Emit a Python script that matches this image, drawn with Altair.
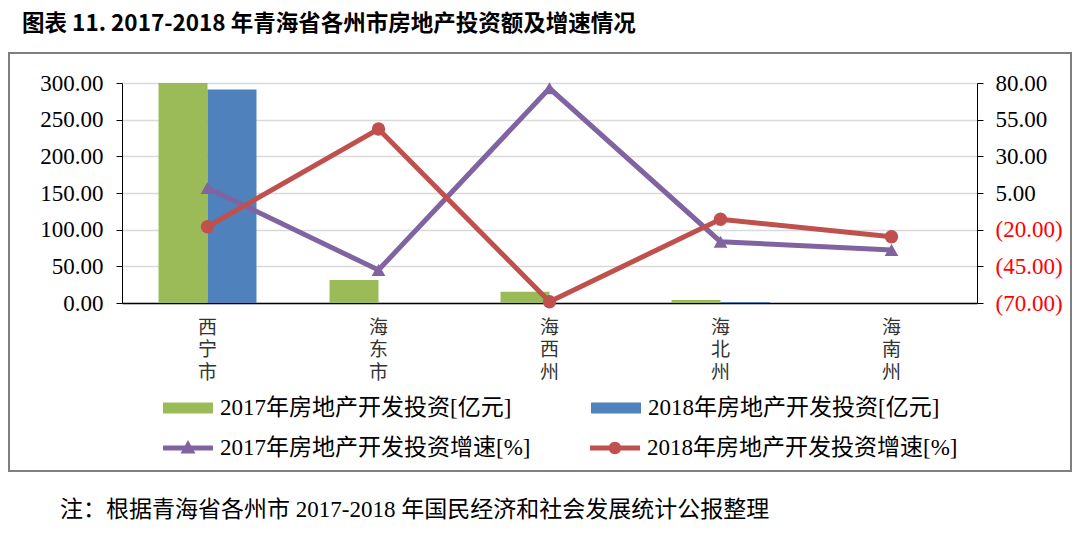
import altair as alt
import pandas as pd

# ---------------- data ----------------
cities = ["西宁市", "海东市", "海西州", "海北州", "海南州"]
bar_series = ["2017年房地产开发投资[亿元]", "2018年房地产开发投资[亿元]"]
line_series = ["2017年房地产开发投资增速[%]", "2018年房地产开发投资增速[%]"]
inv_2017 = [300.0, 31.5, 15.5, 4.0, 0.0]
inv_2018 = [291.0, 0.0, 0.0, 1.5, 0.0]
growth_2017 = [8.4, -47.5, 76.4, -28.2, -33.9]
growth_2018 = [-18.0, 48.6, -69.1, -12.9, -24.8]
left_ticks = [0, 50, 100, 150, 200, 250, 300]
right_ticks = [-70, -45, -20, 5, 30, 55, 80]
title_text = "图表 11. 2017-2018 年青海省各州市房地产投资额及增速情况"
note_text = "注：根据青海省各州市 2017-2018 年国民经济和社会发展统计公报整理"

bar_df = pd.DataFrame(
    {"city": cities * 2,
     "series": [bar_series[0]] * 5 + [bar_series[1]] * 5,
     "value": inv_2017 + inv_2018}
)
line_df = pd.DataFrame(
    {"city": cities * 2,
     "series": [line_series[0]] * 5 + [line_series[1]] * 5,
     "value": growth_2017 + growth_2018}
)

GREEN, BLUE, PURPLE, RED = "#9BBB59", "#4F81BD", "#8064A2", "#C0504D"
SERIF = "Liberation Serif, Noto Sans CJK SC"
CJK = "Noto Sans CJK SC"

W, H = 855, 220

x_enc = alt.X(
    "city:N", sort=cities, title=None,
    scale=alt.Scale(domain=cities, paddingInner=0.427, paddingOuter=0.2135),
    axis=alt.Axis(labelAngle=0, ticks=False, grid=False, domainColor="#000000",
                  domainWidth=1.5, labelExpr="split(datum.label, '')",
                  labelFont=CJK, labelFontSize=19, labelLineHeight=22.5,
                  labelColor="#333333", labelPadding=15, labelBaseline="top"),
)

left_axis = alt.Axis(values=left_ticks, format=".2f", grid=True, gridColor="#d9d9d9",
                     gridWidth=1.5, domainColor="#000000", tickColor="#000000",
                     tickSize=6, labelFont=SERIF, labelFontSize=23,
                     labelColor="#000000", labelPadding=13, title=None)

right_axis = alt.Axis(values=right_ticks, orient="right", grid=False,
                      domainColor="#000000", tickColor="#000000", tickSize=6,
                      labelFont=SERIF, labelFontSize=23, labelPadding=12, title=None,
                      labelExpr="datum.value < 0 ? '(' + format(-datum.value, '.2f') + ')' : format(datum.value, '.2f')",
                      labelColor={"condition": {"test": "datum.value < 0", "value": "#FF0000"},
                                  "value": "#000000"})

y_right = alt.Y("value:Q", scale=alt.Scale(domain=[-70, 80], nice=False, zero=False),
                axis=right_axis, title=None)

BAR_PATH = "M-1,-0.22H1V0.22H-1Z"
TRI_PATH = "M-1,-0.1H1V0.1H-1Z M-0.3,0.22L0,-0.32L0.3,0.22Z"
CIRC_PATH = "M-1,-0.1H1V0.1H-1Z M0.25,0A0.25,0.25,0,1,1,-0.25,0A0.25,0.25,0,1,1,0.25,0Z"

bars = alt.Chart(bar_df).mark_bar().encode(
    x=x_enc,
    xOffset=alt.XOffset("series:N", sort=bar_series,
                        scale=alt.Scale(domain=bar_series, paddingInner=0, paddingOuter=0)),
    y=alt.Y("value:Q", scale=alt.Scale(domain=[0, 300], nice=False), axis=left_axis, title=None),
    color=alt.Color("series:N", scale=alt.Scale(domain=bar_series, range=[GREEN, BLUE]),
                    legend=alt.Legend(title=None, orient="none", legendX=41, legendY=300,
                                      direction="horizontal", symbolType=BAR_PATH,
                                      symbolSize=2500, symbolStrokeWidth=0,
                                      labelFont=SERIF, labelFontSize=23, labelColor="#000000",
                                      labelOffset=7, labelLimit=600, columnPadding=79)),
)

purple_line = alt.Chart(line_df).transform_filter(
    alt.datum.series == line_series[0]
).mark_line(color=PURPLE, strokeWidth=5).encode(x=x_enc, y=y_right)

red_line = alt.Chart(line_df).transform_filter(
    alt.datum.series == line_series[1]
).mark_line(color=RED, strokeWidth=5).encode(x=x_enc, y=y_right)

tri_pts = alt.Chart(line_df).transform_filter(
    alt.datum.series == line_series[0]
).mark_point(shape="triangle-up", filled=True, size=190, color=PURPLE, opacity=1).encode(x=x_enc, y=y_right)

circ_pts = alt.Chart(line_df).transform_filter(
    alt.datum.series == line_series[1]
).mark_point(shape="circle", filled=True, size=180, color=RED, opacity=1).encode(x=x_enc, y=y_right)

line_legend = alt.Legend(title=None, orient="none", legendX=41, legendY=340,
                         direction="horizontal", symbolSize=2500, symbolStrokeWidth=0,
                         symbolOpacity=1, labelFont=SERIF, labelFontSize=23,
                         labelColor="#000000", labelOffset=7, labelLimit=600,
                         columnPadding=59)

legend_dummy = alt.Chart(line_df).mark_point(filled=True, opacity=0).encode(
    color=alt.Color("series:N", scale=alt.Scale(domain=line_series, range=[PURPLE, RED]),
                    legend=line_legend),
    shape=alt.Shape("series:N", scale=alt.Scale(domain=line_series, range=[TRI_PATH, CIRC_PATH]),
                    legend=line_legend),
)

lines_layer = alt.layer(purple_line, red_line, tri_pts, circ_pts, legend_dummy)

one = pd.DataFrame({"t": [title_text], "n": [note_text]})

border = alt.Chart(one).mark_rect(fill="white", fillOpacity=0, stroke="#7f7f7f",
                                  strokeWidth=2).encode(
    x=alt.value(-113), x2=alt.value(949), y=alt.value(-30), y2=alt.value(388))

title = alt.Chart(one).mark_text(align="left", baseline="middle", font=CJK,
                                 fontSize=22.5, fontWeight="bold", color="#000000").encode(
    text="t:N", x=alt.value(-100), y=alt.value(-59))

note = alt.Chart(one).mark_text(align="left", baseline="middle", font=SERIF,
                                fontSize=23, color="#000000").encode(
    text="n:N", x=alt.value(-62), y=alt.value(427))

chart = alt.layer(border, bars, lines_layer, title, note).resolve_scale(
    y="independent", color="independent", shape="independent"
).properties(
    width=W, height=H,
    autosize=alt.AutoSizeParams(type="none"),
    padding={"left": 114, "top": 75, "right": 95, "bottom": 235},
).configure_view(stroke=None)

chart.save("out.html", embed_options={"renderer": "svg", "actions": False})
